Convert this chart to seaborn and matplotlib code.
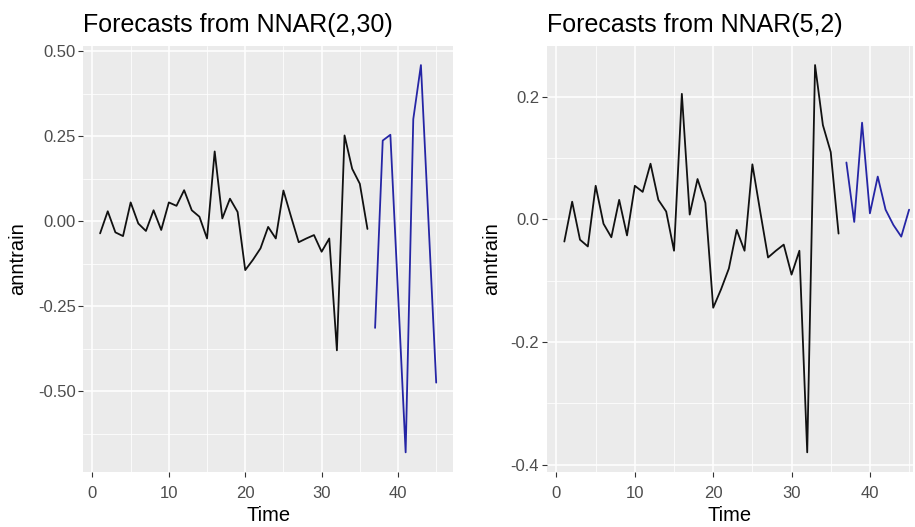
import matplotlib
matplotlib.use("Agg")
import matplotlib.pyplot as plt
import seaborn as sns
import pandas as pd
import numpy as np

# ---- data ----
time_train = [1, 2, 3, 4, 5, 6, 7, 8, 9, 10, 11, 12, 13, 14, 15, 16, 17, 18,
              19, 20, 21, 22, 23, 24, 25, 26, 27, 28, 29, 30, 31, 32, 33, 34, 35, 36]
anntrain = [-0.036, 0.029, -0.033, -0.044, 0.055, -0.007, -0.029, 0.032, -0.026, 0.055,
            0.045, 0.091, 0.032, 0.013, -0.051, 0.205, 0.008, 0.066, 0.027, -0.144,
            -0.114, -0.080, -0.017, -0.051, 0.090, 0.013, -0.062, -0.051, -0.041, -0.090,
            -0.051, -0.380, 0.252, 0.154, 0.110, -0.023]
time_fc = [37, 38, 39, 40, 41, 42, 43, 44, 45]
fc_nnar_2_30 = [-0.314, 0.237, 0.254, -0.21, -0.680, 0.300, 0.459, -0.005, -0.475]
fc_nnar_5_2 = [0.093, -0.004, 0.158, 0.010, 0.070, 0.016, -0.009, -0.028, 0.016]
titles = ["Forecasts from NNAR(2,30)", "Forecasts from NNAR(5,2)"]
x_ticks = [0, 10, 20, 30, 40]
y_ticks_left = [-0.50, -0.25, 0.00, 0.25, 0.50]
y_ticks_right = [-0.4, -0.2, 0.0, 0.2]

train_df = pd.DataFrame({"Time": time_train, "anntrain": anntrain})

sns.set_theme(style="darkgrid")
plt.rcParams["font.family"] = ["Liberation Sans", "DejaVu Sans"]

fig = plt.figure(figsize=(9.15, 5.27), dpi=100)
W, H = 915, 527

def add_axes(x0, x1, y0, y1):
    return fig.add_axes([x0 / W, 1 - y1 / H, (x1 - x0) / W, (y1 - y0) / H])

ax_l = add_axes(83.3, 453.0, 45.7, 471.7)
ax_r = add_axes(546.7, 913.0, 45.7, 471.7)

panels = [
    (ax_l, fc_nnar_2_30, y_ticks_left, "{:.2f}", 0.125, (-1.2, 47.2), 8),
    (ax_r, fc_nnar_5_2, y_ticks_right, "{:.1f}", 0.1, (-1.25, 45.5), 6.5),
]

grey_txt = "#4D4D4D"
for ax, fc, yt, fmt, minor_step, xl, ylpad in panels:
    ax.set_facecolor("#EBEBEB")
    fc_df = pd.DataFrame({"Time": time_fc, "anntrain": fc})
    sns.lineplot(data=train_df, x="Time", y="anntrain", ax=ax, color="#111111",
                 linewidth=1.3, zorder=3)
    sns.lineplot(data=fc_df, x="Time", y="anntrain", ax=ax, color="#2525A5",
                 linewidth=1.3, zorder=3)
    allv = anntrain + fc
    lo, hi = min(allv), max(allv)
    rng = hi - lo
    ax.set_ylim(lo - 0.05 * rng, hi + 0.05 * rng)
    ax.set_xlim(*xl)
    ax.set_xticks(x_ticks)
    ax.set_xticklabels([str(v) for v in x_ticks])
    ax.set_xticks([5, 15, 25, 35, 45], minor=True)
    ax.set_yticks(yt)
    ax.set_yticklabels([fmt.format(v) for v in yt])
    ylo, yhi = ax.get_ylim()
    minors = [v for v in np.arange(-1.0, 1.0001, minor_step)
              if ylo <= v <= yhi and all(abs(v - m) > 1e-6 for m in yt)]
    ax.set_yticks(minors, minor=True)
    ax.grid(which="major", color="white", linewidth=1.1)
    ax.grid(which="minor", color="white", linewidth=0.55)
    ax.tick_params(which="major", length=3.5, width=0.8, color="#333333",
                   labelsize=12, labelcolor=grey_txt, bottom=True, left=True)
    ax.tick_params(axis="x", which="major", pad=7)
    ax.tick_params(axis="y", which="major", pad=2)
    ax.tick_params(which="minor", length=0)
    for s in ax.spines.values():
        s.set_visible(False)
    ax.set_xlabel("Time", fontsize=14.5, color="black", labelpad=3.5)
    ax.set_ylabel("anntrain", fontsize=14.5, color="black", labelpad=ylpad)

ax_l.set_title(titles[0], fontsize=18, loc="left", pad=10, color="black")
ax_r.set_title(titles[1], fontsize=18, loc="left", pad=10, color="black")

fig.savefig("out.png", dpi=100, facecolor="white")
